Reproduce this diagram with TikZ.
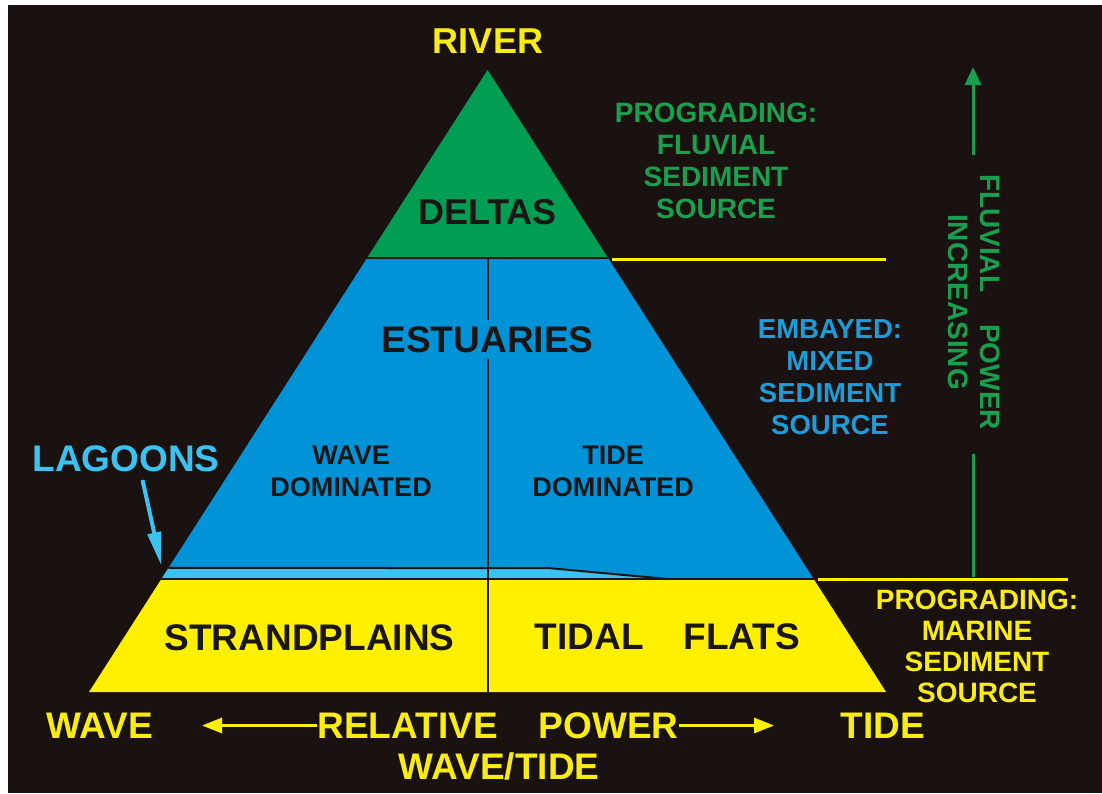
\documentclass[tikz,border=0pt]{standalone}
\usepackage{fontspec}
\setmainfont{Liberation Sans}
\usetikzlibrary{arrows.meta,calc}
\definecolor{bgc}{RGB}{26,18,16}
\definecolor{grn}{RGB}{0,158,82}
\definecolor{grntxt}{RGB}{24,160,78}
\definecolor{blu}{RGB}{0,147,216}
\definecolor{blutxt}{RGB}{28,156,216}
\definecolor{lagc}{RGB}{58,194,240}
\definecolor{ylw}{RGB}{255,240,0}
\definecolor{ytxt}{RGB}{248,236,20}
\definecolor{dk}{RGB}{26,22,22}
\begin{document}
\begin{tikzpicture}[x=1pt,y=-1pt,
  txt/.style={font=\bfseries, inner sep=0pt, align=center},
  bigt/.style={txt, font=\bfseries\fontsize{37}{40}\selectfont},
  midt/.style={txt, font=\bfseries\fontsize{28}{32}\selectfont},
  domt/.style={txt, text=dk, font=\bfseries\fontsize{27}{32}\selectfont},
  divline/.style={draw=dk, line width=2pt},
  yline/.style={draw=ylw, line width=3pt},
  yarr/.style={draw=ylw, line width=3pt, -{Triangle[length=20pt,width=15pt]}},
  garr/.style={draw=grntxt, line width=3pt},
  larr/.style={draw=lagc, line width=4pt, -{Triangle[length=34pt,width=13pt]}}]
\useasboundingbox (0,0) rectangle (1102,793);
\fill[white] (0,0) rectangle (1102,793);
\fill[bgc] (8,5) rectangle (1102,793);
% triangle geometry
\coordinate (A) at (487.5,70);
\coordinate (BL) at (89,692);
\coordinate (BR) at (886,692);
\coordinate (L1) at ($(A)!0.3023!(BL)$);
\coordinate (R1) at ($(A)!0.3023!(BR)$);
\coordinate (L2) at ($(A)!0.8006!(BL)$);
\coordinate (L3) at ($(A)!0.8183!(BL)$);
\coordinate (R3) at ($(A)!0.8183!(BR)$);
\coordinate (LagA) at (548,568);
\coordinate (LagB) at (668,579);
\coordinate (VT) at (487.5,258);
\coordinate (VB) at (487.5,692);
% fills
\fill[grn] (A) -- (R1) -- (L1) -- cycle;
\fill[blu] (L1) -- (R1) -- (R3) -- (L3) -- cycle;
\fill[lagc] (L2) -- (LagA) -- (LagB) -- (L3) -- cycle;
\fill[ylw] (L3) -- (R3) -- (BR) -- (BL) -- cycle;
% dividing lines
\draw[divline] (L1) -- (R1);
\draw[divline] (L2) -- (LagA) -- (LagB);
\draw[divline] (L3) -- (R3);
\draw[divline] (VT) -- (VB);
% yellow side lines
\coordinate (y1a) at (612,259);
\coordinate (y1b) at (886,259);
\coordinate (y2a) at (818,579);
\coordinate (y2b) at (1068,579);
\draw[yline] (y1a) -- (y1b);
\draw[yline] (y2a) -- (y2b);
% triangle labels
\node[bigt, text=ytxt, font=\bfseries\fontsize{36}{40}\selectfont] (river) at (488,41) {RIVER};
\node[bigt, text=dk, font=\bfseries\fontsize{36}{40}\selectfont] (deltas) at (487.5,212) {DELTAS};
\node[bigt, text=dk, fill=blu, inner ysep=6pt] (estuaries) at (487.5,339.5) {ESTUARIES};
\node[domt] (wavedom) at (351,471) {WAVE\\DOMINATED};
\node[domt] (tidedom) at (613,471) {TIDE\\DOMINATED};
\node[bigt, text=dk] (strand) at (309.5,637.5) {STRANDPLAINS};
\node[bigt, text=dk] (tidal) at (667.5,637) {TIDAL\hspace{40pt}FLATS};
% lagoons
\node[bigt, text=lagc] (lagoons) at (126,459) {LAGOONS};
\coordinate (lagstart) at (142.5,480);
\coordinate (lagtip) at (161.5,566);
\draw[larr] (lagstart) -- (lagtip);
% right-side labels
\node[midt, text=grntxt] (fluvsrc) at (716,161) {PROGRADING:\\FLUVIAL\\SEDIMENT\\SOURCE};
\node[midt, text=blutxt, font=\bfseries\fontsize{27.5}{32}\selectfont] (embayed) at (830,377) {EMBAYED:\\MIXED\\SEDIMENT\\SOURCE};
\node[midt, text=ytxt, font=\bfseries\fontsize{28}{31}\selectfont] (marine) at (977,646.5) {PROGRADING:\\MARINE\\SEDIMENT\\SOURCE};
% fluvial power arrow
\node[midt, text=grntxt, rotate=-90] (fluvpow) at (974,302) {FLUVIAL\hspace{32pt}POWER\\INCREASING};
\coordinate (gtop) at (973,67);
\coordinate (gm1) at (973,155);
\coordinate (gm2) at (973,454);
\coordinate (gbot) at (973,577);
\draw[garr, -{Triangle[length=18pt,width=16pt]}] (gm1) -- (gtop);
\draw[garr] (gm2) -- (gbot);
% bottom labels
\node[bigt, text=ytxt] (wave) at (100,725.5) {WAVE};
\node[bigt, text=ytxt] (tide) at (883,725.5) {TIDE};
\node[bigt, text=ytxt] (relpow) at (498,725.5) {RELATIVE\hspace{41pt}POWER};
\node[bigt, text=ytxt] (wavetide) at (499,766.5) {WAVE/TIDE};
\coordinate (ltip) at (202,725.5);
\coordinate (rtip) at (774,725.5);
\draw[yarr] (relpow.west) -- (ltip);
\draw[yarr] (relpow.east) -- (rtip);
\end{tikzpicture}
\end{document}
